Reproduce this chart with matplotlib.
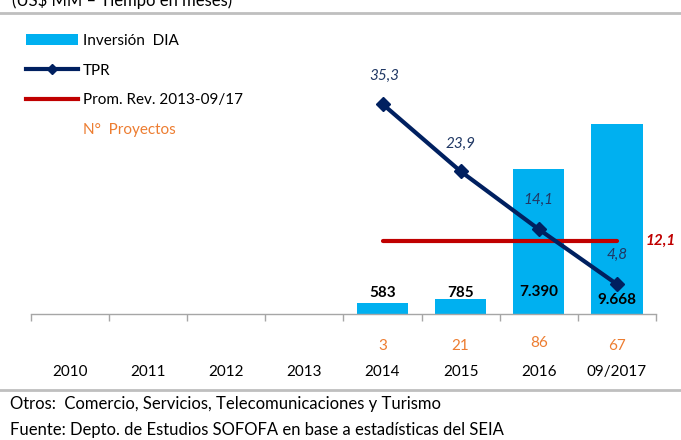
import matplotlib
matplotlib.use("Agg")
import matplotlib.pyplot as plt
from matplotlib.lines import Line2D
from matplotlib.patches import Patch

plt.rcParams['font.family'] = ['Lato', 'DejaVu Sans']

# data
categories = ['2010', '2011', '2012', '2013', '2014', '2015', '2016', '09/2017']
inversion = [0, 0, 0, 0, 583, 785, 7390, 9668]
inversion_labels = ['', '', '', '', '583', '785', '7.390', '9.668']
tpr = [None, None, None, None, 35.3, 23.9, 14.1, 4.8]
tpr_labels = ['', '', '', '', '35,3', '23,9', '14,1', '4,8']
prom_rev = 12.1
proyectos = ['', '', '', '', '3', '21', '86', '67']

CYAN = '#00b0f0'
NAVY = '#002060'
NAVY_TXT = '#203864'
RED = '#c00000'
ORANGE = '#ed7d31'
GRAY = '#bfbfbf'

W, H = 681, 440
fig = plt.figure(figsize=(W / 100, H / 100), dpi=100)

# axes: x from 31 to 656 px, y from 20 to 314 px (from top)
ax_l, ax_r, ax_t, ax_b = 31.2, 655.8, 20, 314
ax = fig.add_axes([ax_l / W, 1 - ax_b / H, (ax_r - ax_l) / W, (ax_b - ax_t) / H])
ax2 = ax.twinx()

x = list(range(len(categories)))
ax.bar(x, inversion, width=0.66, color=CYAN, zorder=2)
ax.set_xlim(-0.5, len(categories) - 0.5)
ax.set_ylim(0, (ax_b - ax_t) / 0.01965)

# TPR line
xs = [i for i in x if tpr[i] is not None]
ys = [tpr[i] for i in xs]
ax2.plot(xs, ys, color=NAVY, lw=3, marker='D', ms=7, zorder=4)
ax2.plot([xs[0], xs[-1]], [prom_rev, prom_rev], color=RED, lw=3, zorder=3,
         solid_capstyle='round')
px_per_unit = 5.967
ax2.set_ylim(-1.6 / px_per_unit, (ax_b + 1.6 - ax_t) / px_per_unit)
ax2.set_xlim(-0.5, len(categories) - 0.5)

# labels for TPR
tpr_offsets = [(0, 0), (0, 0), (0, 0), (0, 0), (1, 20), (0, 20), (0, 21), (0, 21)]
for i in xs:
    ax2.annotate(tpr_labels[i], (i, tpr[i]), xytext=tpr_offsets[i], textcoords='offset points',
                 ha='center', va='center', color=NAVY_TXT, fontsize=11, style='italic', zorder=5)
ax2.annotate('12,1', (xs[-1], prom_rev), xytext=(31.5, 0), textcoords='offset points',
             ha='center', va='center', color=RED, fontsize=11, style='italic',
             fontweight='bold')

# labels for bars (positions in px from top of image)
bar_label_y = [0, 0, 0, 0, 293, 293, 292, 300]
for i in x:
    if inversion_labels[i]:
        ax.annotate(inversion_labels[i], (i, 0), xytext=(0, (ax_b - bar_label_y[i]) * 0.72),
                    textcoords='offset points', ha='center', va='center',
                    fontsize=11, fontweight='bold', color='black', zorder=6)

# proyectos and year labels below axis
for i in x:
    if proyectos[i]:
        dy = 343 if proyectos[i] == '86' else 346
        ax.annotate(proyectos[i], (i, 0), xytext=(0, -(dy - ax_b) * 0.72),
                    textcoords='offset points', ha='center', va='center',
                    fontsize=11, color=ORANGE, annotation_clip=False)
    ax.annotate(categories[i], (i, 0), xytext=(0, -(372 - ax_b) * 0.72),
                textcoords='offset points', ha='center', va='center',
                fontsize=11, color='black', annotation_clip=False)

# spines and ticks
for a in (ax, ax2):
    for s in ('top', 'right', 'left'):
        a.spines[s].set_visible(False)
    a.set_yticks([])
ax2.spines['bottom'].set_visible(False)
ax.spines['bottom'].set_color('#a6a6a6')
ax.spines['bottom'].set_linewidth(1.0)
ax.set_xticks([])
ax.set_xticks([i - 0.5 for i in range(len(categories) + 1)], minor=True)
ax.tick_params(axis='x', which='minor', length=5, color='#a6a6a6', width=1.0)
ax2.set_xticks([])

# legend
handles = [
    Patch(facecolor=CYAN, edgecolor='none'),
    Line2D([], [], color=NAVY, lw=3, marker='D', ms=5),
    Line2D([], [], color=RED, lw=3),
    Line2D([], [], color='none'),
]
labels = ['Inversión  DIA', 'TPR', 'Prom. Rev. 2013-09/17', 'N°  Proyectos']
leg = fig.legend(handles, labels, loc='upper left', bbox_to_anchor=(26 / W, 1 - 34 / H),
                 frameon=False, fontsize=11, handlelength=3.4, handletextpad=0.3,
                 labelspacing=1.02, borderpad=0, borderaxespad=0, numpoints=1,
                 handleheight=0.75, labelcolor=['black', 'black', 'black', ORANGE])

# header / footer
fig.text(12 / W, 1 - 6 / H, '(US$ MM \u2013 Tiempo en meses)', fontsize=12, ha='left',
         va='baseline')
fig.add_artist(Line2D([0, 1], [1 - 12.7 / H, 1 - 12.7 / H], color=GRAY, lw=2))
fig.add_artist(Line2D([0, 1], [1 - 389.5 / H, 1 - 389.5 / H], color=GRAY, lw=2))
fig.text(10 / W, 1 - 404 / H, 'Otros:  Comercio, Servicios, Telecomunicaciones y Turismo',
         fontsize=12, ha='left', va='center')
fig.text(10 / W, 1 - 430 / H, 'Fuente: Depto. de Estudios SOFOFA en base a estadísticas del SEIA',
         fontsize=12, ha='left', va='center')

fig.savefig('out.png', dpi=100)
